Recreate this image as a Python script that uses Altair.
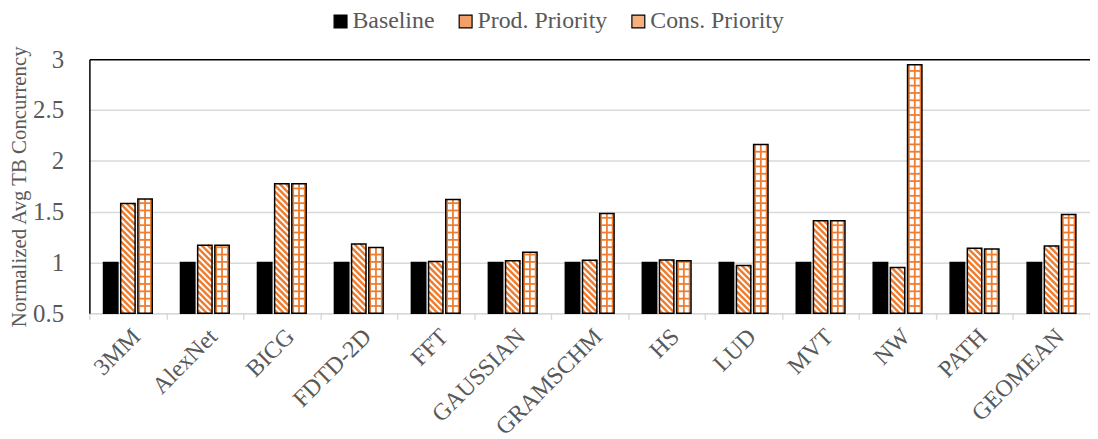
import json
import altair as alt
import pandas as pd

categories = ["3MM", "AlexNet", "BICG", "FDTD-2D", "FFT", "GAUSSIAN", "GRAMSCHM",
              "HS", "LUD", "MVT", "NW", "PATH", "GEOMEAN"]
series = ["Baseline", "Prod. Priority", "Cons. Priority"]
baseline = [1.0, 1.0, 1.0, 1.0, 1.0, 1.0, 1.0, 1.0, 1.0, 1.0, 1.0, 1.0, 1.0]
prod = [1.58, 1.17, 1.775, 1.183, 1.01, 1.017, 1.023, 1.024, 0.97, 1.41, 0.95, 1.14, 1.163]
cons = [1.625, 1.17, 1.775, 1.147, 1.62, 1.10, 1.482, 1.017, 2.16, 1.41, 2.945, 1.134, 1.473]
y_ticks = [0.5, 1, 1.5, 2, 2.5, 3]
y_title = "Normalized Avg TB Concurrency"

rows = []
for i, c in enumerate(categories):
    for j, (s, vals) in enumerate(zip(series, [baseline, prod, cons])):
        rows.append({"cat": c, "idx": i, "sj": j, "series": s, "value": vals[i]})
df = pd.DataFrame(rows)

# geometry / style
W, H = 1008, 256
N = len(categories)
Y0, Y1 = 0.5, 3.0
KX = W / N            # px per x unit
KY = H / (Y1 - Y0)    # px per y unit
PITCH = 17.3          # px between bar centres
BW = 14.5             # bar width px
PV = 6.3              # diagonal stripe period px
GS = 7.4              # grid step px
ORANGE = "#ED7D31"
GRAY = "#595959"
LIGHT = "#D9D9D9"
FONT = "Liberation Serif"

xscale = alt.Scale(domain=[0, N], nice=False, zero=False)
yscale = alt.Scale(domain=[Y0, Y1], nice=False, zero=False)

base = alt.Chart(df).transform_calculate(
    xc=f"datum.idx + 0.5 + (datum.sj - 1) * {PITCH / KX}",
    hpx=f"(datum.value - {Y0}) * {KY}",
).transform_calculate(
    xl=f"datum.xc - {BW / 2 / KX}",
    xr=f"datum.xc + {BW / 2 / KX}",
)

names = json.dumps(categories)
x_vals = [k / 2 for k in range(2 * N + 1)]

x_axis = alt.Axis(
    values=x_vals,
    labelExpr=f"datum.value % 1 == 0.5 ? {names}[floor(datum.value)] : ''",
    tickOpacity=alt.condition("datum.value % 1 == 0", alt.value(1), alt.value(0)),
    labelAngle=-45, labelOverlap=False, labelFlush=False, labelBound=False,
    labelFont=FONT, labelFontSize=24, labelColor=GRAY, labelPadding=5,
    domainColor=LIGHT, domainWidth=1.5, tickColor=LIGHT, tickWidth=1.5, tickSize=6,
    grid=False, title=None,
)
y_axis = alt.Axis(
    values=y_ticks, format="~g", title=y_title,
    titleFont=FONT, titleFontSize=21, titleColor=GRAY, titleFontWeight="normal",
    titlePadding=3,
    labelFont=FONT, labelFontSize=25, labelColor=GRAY, labelPadding=26,
    ticks=False, tickSize=0,
    domainColor="black", domainWidth=1.5,
    grid=True, gridWidth=1.5,
    gridColor=alt.condition("datum.value == 3", alt.value("black"), alt.value(LIGHT)),
)


def X(field):
    return alt.X(field, scale=xscale, axis=x_axis)


def Y(field):
    return alt.Y(field, scale=yscale, axis=y_axis)


fill = base.mark_rect().encode(
    x=X("xl:Q"),
    x2="xr:Q",
    y=Y("value:Q"),
    y2=alt.datum(Y0),
    fill=alt.condition("datum.sj == 0", alt.value("black"), alt.value("white")),
)

stripes = base.transform_filter("datum.sj == 1").transform_calculate(
    cs=f"sequence({PV / 2}, datum.hpx + {BW}, {PV})"
).transform_flatten(["cs"], as_=["c"]).transform_calculate(
    sx=f"datum.xl + max(0, datum.c - datum.hpx) / {KX}",
    sx2=f"datum.xl + min({BW}, datum.c) / {KX}",
    sy=f"{Y0} + min(datum.c, datum.hpx) / {KY}",
    sy2=f"{Y0} + max(0, datum.c - {BW}) / {KY}",
).mark_rule(stroke=ORANGE, strokeWidth=2.5).encode(
    x=X("sx:Q"),
    x2="sx2:Q",
    y=Y("sy:Q"),
    y2="sy2:Q",
)

hlines = base.transform_filter("datum.sj == 2").transform_calculate(
    hs=f"sequence({GS}, datum.hpx, {GS})"
).transform_flatten(["hs"], as_=["h"]).transform_calculate(
    hy=f"{Y0} + datum.h / {KY}"
).mark_rule(stroke=ORANGE, strokeWidth=1.8).encode(
    x=X("xl:Q"),
    x2="xr:Q",
    y=Y("hy:Q"),
)

vlines = base.transform_filter("datum.sj == 2").transform_calculate(
    vs=f"[1.4, {BW / 2}, {BW - 1.4}]"
).transform_flatten(["vs"], as_=["v"]).transform_calculate(
    vx=f"datum.xl + datum.v / {KX}"
).mark_rule(stroke=ORANGE, strokeWidth=1.8).encode(
    x=X("vx:Q"),
    y=Y("value:Q"),
    y2=alt.datum(Y0),
)

outline = base.mark_rect(fillOpacity=0, stroke="black", strokeWidth=1.5).encode(
    x=X("xl:Q"),
    x2="xr:Q",
    y=Y("value:Q"),
    y2=alt.datum(Y0),
)

legend_layer = base.mark_square(opacity=0).encode(
    x=X("xc:Q"),
    y=Y("value:Q"),
    color=alt.Color(
        "series:N",
        scale=alt.Scale(domain=series, range=["black", "#F2A068", "#F5B07F"]),
        legend=alt.Legend(
            orient="none", legendX=241, legendY=-50, direction="horizontal",
            title=None, symbolType="square", symbolSize=169,
            symbolStrokeColor="black", symbolStrokeWidth=1.2, symbolOpacity=1,
            labelFont=FONT, labelFontSize=24, labelColor=GRAY, labelOffset=0,
            columnPadding=19, padding=0, labelLimit=300,
        ),
    ),
)

chart = alt.layer(fill, stripes, hlines, vlines, outline, legend_layer).properties(
    width=W, height=H,
    autosize=alt.AutoSizeParams(type="none"),
    padding={"left": 82, "top": 50, "right": 0, "bottom": 125},
).configure_view(stroke=None)

chart.save("out.html", embed_options={"renderer": "svg", "actions": False})
